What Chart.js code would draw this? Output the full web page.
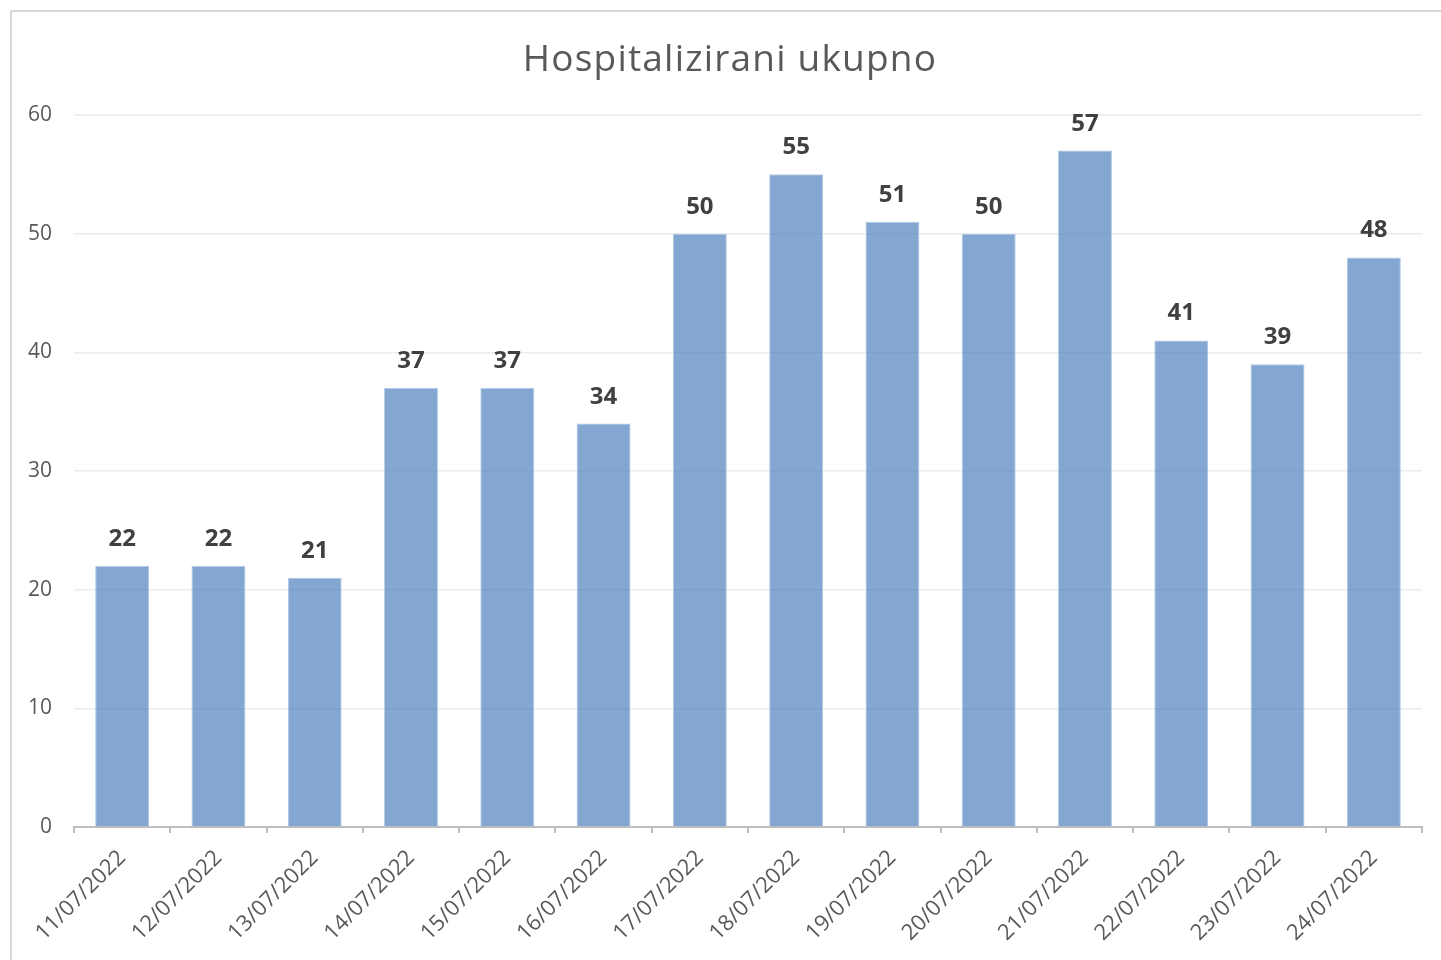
<!DOCTYPE html>
<html>
<head>
<meta charset="utf-8">
<title>Hospitalizirani ukupno</title>
<script src="https://cdn.jsdelivr.net/npm/chart.js@4/dist/chart.umd.min.js"></script>
<style>
  html, body { margin:0; padding:0; background:#fff; overflow:hidden; }
  #frame { position:absolute; left:10px; top:10px; width:1440px; height:960px; border:2px solid #d9d9d9; box-sizing:border-box; }
  #wrap { position:absolute; left:0; top:0; width:1441px; height:960px; }
</style>
</head>
<body>
<div id="frame"></div>
<div id="wrap"><canvas id="chart"></canvas></div>
<script>
// podaci sa grafikona
const dates = ['11/07/2022','12/07/2022','13/07/2022','14/07/2022','15/07/2022','16/07/2022','17/07/2022',
               '18/07/2022','19/07/2022','20/07/2022','21/07/2022','22/07/2022','23/07/2022','24/07/2022'];
const hospitalized = [22,22,21,37,37,34,50,55,51,50,57,41,39,48];
const yTicks = [0,10,20,30,40,50,60];
const titleText = 'Hospitalizirani ukupno';

const FONT = "'Open Sans', 'Noto Sans', sans-serif";

// naslov centriran na okvir grafikona (ne na područje crtanja)
const frameTitle = {
  id:'frameTitle',
  afterDraw(chart){
    const ctx = chart.ctx;
    ctx.save();
    ctx.font = "37px " + FONT;
    ctx.fillStyle = '#595959';
    ctx.textAlign = 'center';
    ctx.textBaseline = 'middle';
    if ('letterSpacing' in ctx) ctx.letterSpacing = '1.2px';
    ctx.fillText(titleText, 730, 60);
    ctx.restore();
  }
};

// oznake vrijednosti iznad stupaca
const barLabels = {
  id:'barLabels',
  afterDatasetsDraw(chart){
    const ctx = chart.ctx;
    const meta = chart.getDatasetMeta(0);
    ctx.save();
    ctx.font = "bold 24px " + FONT;
    ctx.fillStyle = '#404040';
    ctx.textAlign = 'center';
    ctx.textBaseline = 'alphabetic';
    meta.data.forEach((bar,i)=>{
      ctx.fillText(String(hospitalized[i]), bar.x, bar.y - 20);
    });
    ctx.restore();
  }
};

new Chart(document.getElementById('chart'), {
  type:'bar',
  data:{
    labels: dates,
    datasets:[{
      data: hospitalized,
      backgroundColor:'rgba(79,129,189,0.7)',
      borderColor:'rgba(170,196,226,0.9)',
      borderWidth:1,
      barPercentage:0.56,
      categoryPercentage:1
    }]
  },
  options:{
    responsive:true,
    maintainAspectRatio:false,
    animation:false,
    layout:{ padding:{ top:115, right:19, left:0, bottom:0 } },
    plugins:{
      legend:{ display:false },
      tooltip:{ enabled:false },
      title:{ display:false }
    },
    scales:{
      x:{
        grid:{ offset:true, drawOnChartArea:false, drawTicks:true, tickLength:6, color:'#bfbfbf', lineWidth:2 },
        border:{ display:true, color:'#bfbfbf', width:2 },
        ticks:{ color:'#595959', font:{ family:FONT, size:22 }, minRotation:45, maxRotation:45, padding:12, autoSkip:false },
        afterFit(s){ s.height = 133; }
      },
      y:{
        min:0, max:60,
        afterBuildTicks(s){ s.ticks = yTicks.map(v=>({value:v})); },
        grid:{ color:'#ececec', lineWidth:1.5, drawTicks:false },
        border:{ display:false },
        ticks:{ color:'#595959', font:{ family:FONT, size:21 }, padding:22 },
        afterFit(s){ s.width = 74; }
      }
    }
  },
  plugins:[barLabels, frameTitle]
});
</script>
</body>
</html>
